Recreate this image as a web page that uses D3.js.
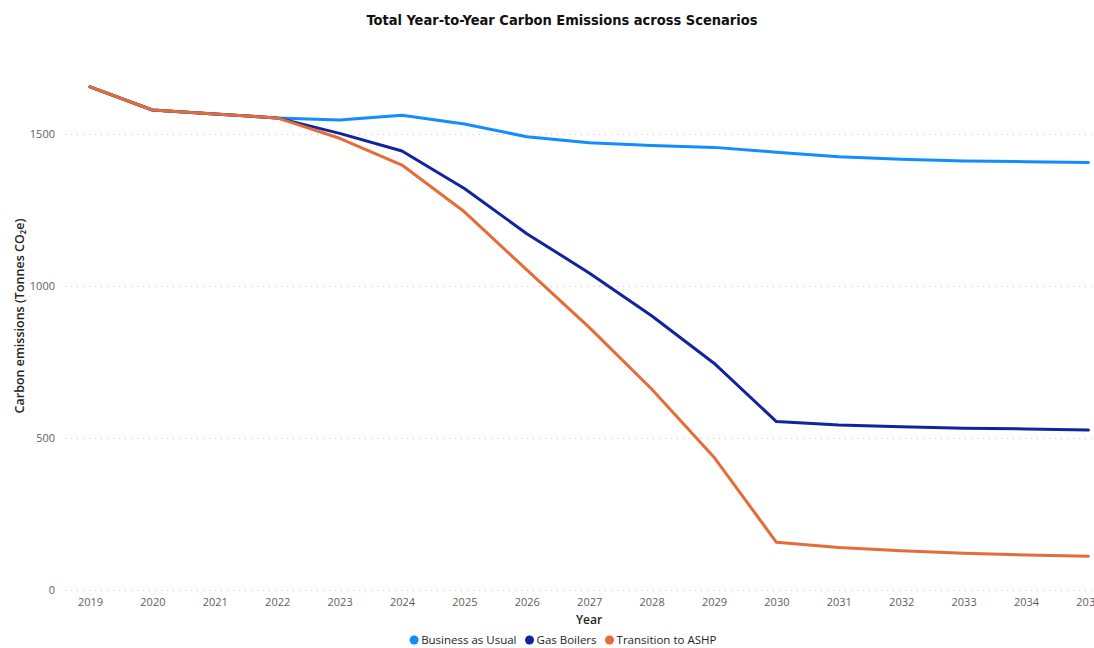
<!DOCTYPE html>
<html>
<head>
<meta charset="utf-8">
<script src="https://cdn.jsdelivr.net/npm/d3@7"></script>
<style>
  html, body { margin: 0; padding: 0; background: #fff; overflow: hidden; }
  svg { display: block; }
</style>
</head>
<body>
<svg id="chart" width="1094" height="648"></svg>
<script>
const years = [2019, 2020, 2021, 2022, 2023, 2024, 2025, 2026, 2027, 2028, 2029, 2030, 2031, 2032, 2033, 2034, 2035];
const businessAsUsual = [1655, 1579, 1566, 1553, 1546, 1562, 1533, 1491, 1471, 1462, 1456, 1440, 1425, 1417, 1411, 1409, 1406];
const gasBoilers      = [1655, 1579, 1566, 1553, 1502, 1444, 1321, 1172, 1043, 902, 746, 554, 543, 537, 532, 530, 526];
const transitionASHP  = [1655, 1579, 1566, 1553, 1486, 1398, 1244, 1053, 864, 661, 437, 157, 140, 129, 121, 115, 111];
const seriesNames = ["Business as Usual", "Gas Boilers", "Transition to ASHP"];
const seriesColors = ["#118DFF", "#12239E", "#E66C37"];
const yTicks = [0, 500, 1000, 1500];

const svg = d3.select("#chart");
const x = d3.scaleLinear().domain([2019, 2035]).range([90, 1088.4]);
const y = d3.scaleLinear().domain([0, 1500]).range([590, 134]);
const baseFont = "'Open Sans', sans-serif";

// Title
svg.append("text")
  .attr("x", 562).attr("y", 25)
  .attr("text-anchor", "middle")
  .attr("font-family", "'DejaVu Sans Condensed', 'DejaVu Sans', sans-serif")
  .attr("font-weight", "bold")
  .attr("font-size", 14.5)
  .attr("fill", "#111")
  .text("Total Year-to-Year Carbon Emissions across Scenarios");

// Gridlines + y ticks
const yAxis = d3.axisLeft(y).tickValues(yTicks).tickFormat(d3.format("d")).tickSize(-(1094 - 65)).tickPadding(10);
const gy = svg.append("g").attr("transform", "translate(65,0)").call(yAxis);
gy.select(".domain").remove();
gy.selectAll(".tick line")
  .attr("stroke", "#C8C6C4")
  .attr("stroke-width", 1)
  .attr("stroke-dasharray", "1,5");
gy.selectAll(".tick text")
  .attr("font-family", baseFont)
  .attr("font-size", 11)
  .attr("fill", "#605E5C");

// X axis
const xAxis = d3.axisBottom(x).tickValues(years).tickFormat(d3.format("d")).tickSize(0).tickPadding(8);
const gx = svg.append("g").attr("transform", "translate(0,590)").call(xAxis);
gx.select(".domain").remove();
gx.selectAll(".tick text")
  .attr("font-family", baseFont)
  .attr("font-size", 11)
  .attr("fill", "#605E5C");

// Axis titles
svg.append("text")
  .attr("x", 589).attr("y", 624)
  .attr("text-anchor", "middle")
  .attr("font-family", baseFont)
  .attr("font-weight", 600)
  .attr("font-size", 12)
  .attr("fill", "#252423")
  .text("Year");

svg.append("text")
  .attr("transform", "translate(24,316) rotate(-90)")
  .attr("text-anchor", "middle")
  .attr("font-family", baseFont)
  .attr("font-weight", 600)
  .attr("font-size", 12.5)
  .attr("fill", "#252423")
  .text("Carbon emissions (Tonnes CO\u2082e)");

// Lines
const allSeries = [businessAsUsual, gasBoilers, transitionASHP];
const line = d3.line().x((d, i) => x(years[i])).y(d => y(d));
[0, 1, 2].forEach(k => {
  svg.append("path")
    .datum(allSeries[k])
    .attr("fill", "none")
    .attr("stroke", seriesColors[k])
    .attr("stroke-width", 3)
    .attr("stroke-linejoin", "round")
    .attr("stroke-linecap", "round")
    .attr("d", line);
});

// Legend (laid out from measured text widths, centred)
const lg = svg.append("g");
const items = seriesNames.map((name, k) => {
  const g = lg.append("g");
  g.append("circle").attr("cx", 0).attr("cy", 0).attr("r", 4.5).attr("fill", seriesColors[k]);
  const t = g.append("text")
    .attr("x", 7).attr("y", 4)
    .attr("font-family", baseFont)
    .attr("font-size", 11.5)
    .attr("fill", "#252423")
    .text(name);
  return { g, w: 7 + t.node().getComputedTextLength() };
});
const gap = 13;
const total = d3.sum(items, d => d.w) + gap * (items.length - 1) + 4.5;
let cx = 563 - total / 2 + 4.5;
items.forEach(it => {
  it.g.attr("transform", `translate(${cx},640)`);
  cx += it.w + gap;
});
</script>
</body>
</html>
